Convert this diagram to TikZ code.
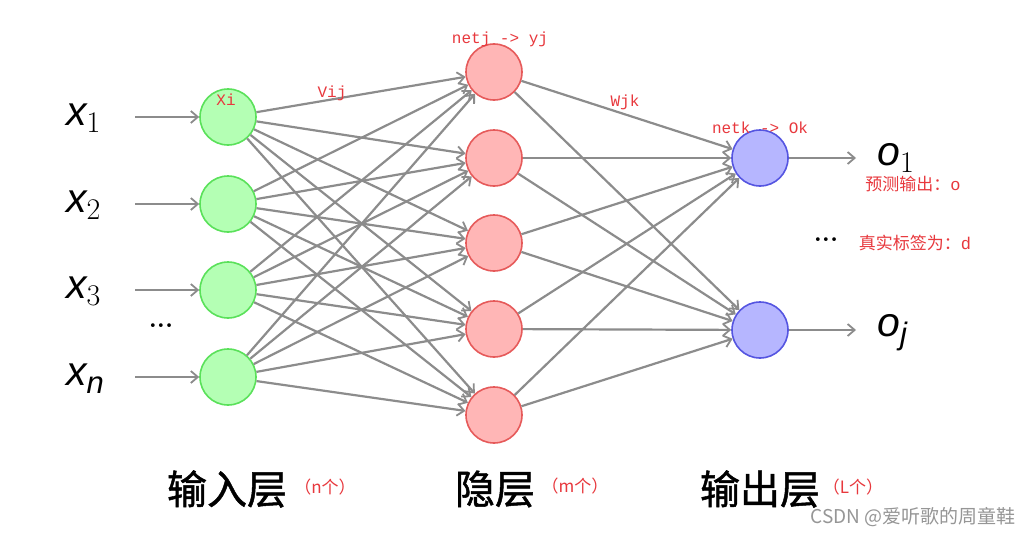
\documentclass[tikz,border=0pt]{standalone}
\usepackage{fontspec}
\usetikzlibrary{arrows.meta}
\newfontfamily\cjk{Noto Sans CJK SC}
\newfontfamily\cjkt{Noto Sans CJK SC}[FakeBold=1.2]
\newfontfamily\monof{Liberation Mono}
\newfontfamily\sanit{Liberation Sans Italic}
\newfontfamily\lmr{Latin Modern Roman}
\definecolor{lblred}{HTML}{E8383D}
\definecolor{edgegray}{HTML}{8C8C8C}
\newcommand{\vletter}[1]{{\sanit\fontsize{41}{44}\selectfont #1}}
\newcommand{\vsubd}[1]{\raisebox{-7pt}{\lmr\fontsize{30}{32}\selectfont #1}}
\newcommand{\vsubl}[1]{\raisebox{-8pt}{\sanit\fontsize{31}{33}\selectfont #1}}
\begin{document}
\begin{tikzpicture}[x=1pt,y=-1pt,
  neuron/.style={circle, minimum size=56pt, inner sep=0pt, line width=1.6pt},
  inn/.style={neuron, fill={rgb,255:red,180;green,255;blue,180}, draw={rgb,255:red,90;green,225;blue,90}},
  hid/.style={neuron, fill={rgb,255:red,255;green,182;blue,182}, draw={rgb,255:red,230;green,90;blue,90}},
  outn/.style={neuron, fill={rgb,255:red,182;green,182;blue,255}, draw={rgb,255:red,85;green,85;blue,225}},
  conn/.style={draw=edgegray, line width=2.2pt, -{Straight Barb[length=7pt,width=12pt,line width=1.8pt]}},
  redlbl/.style={text=lblred, font=\monof\fontsize{16}{18}\selectfont, inner sep=0pt},
  redcjk/.style={text=lblred, font=\cjk\fontsize{17}{19}\selectfont, inner sep=0pt},
  vlbl/.style={inner sep=0pt, anchor=base west},
  layer/.style={font=\cjkt\fontsize{40}{44}\selectfont, inner sep=0pt},
  cnt/.style={text=lblred, font=\cjk\fontsize{17}{19}\selectfont, inner sep=0pt},
  dots/.style={font=\bfseries\fontsize{26}{28}\selectfont, inner sep=0pt}
]
\useasboundingbox (0,0) rectangle (1032,535);
\fill[white] (0,0) rectangle (1032,535);

% input layer
\node[inn] (i1) at (228,117) {};
\node[inn] (i2) at (228,204) {};
\node[inn] (i3) at (228,290) {};
\node[inn] (i4) at (228,377) {};
% hidden
\node[hid] (h1) at (494,72) {};
\node[hid] (h2) at (494,158) {};
\node[hid] (h3) at (494,243) {};
\node[hid] (h4) at (494,329) {};
\node[hid] (h5) at (494,415) {};
% output
\node[outn] (o1) at (760,158) {};
\node[outn] (o2) at (760,330) {};

% input labels and arrows
\node[vlbl] (lx1) at (66,125) {\vletter{x}\vsubd{1}};
\node[vlbl] (lx2) at (66,212) {\vletter{x}\vsubd{2}};
\node[vlbl] (lx3) at (66,298) {\vletter{x}\vsubd{3}};
\node[vlbl] (lx4) at (66,385) {\vletter{x}\vsubl{n}};
\coordinate (s1) at (135,117);
\coordinate (s2) at (135,204);
\coordinate (s3) at (135,290);
\coordinate (s4) at (135,377);
\foreach \k in {1,2,3,4}{\draw[conn] (s\k) -- (i\k);}
\node[dots] (d1) at (161,326) {...};

% input -> hidden
\foreach \a in {1,2,3,4}{\foreach \b in {1,2,3,4,5}{\draw[conn] (i\a) -- (h\b);}}
% hidden -> output
\foreach \a in {1,2,3,4,5}{\foreach \b in {1,2}{\draw[conn] (h\a) -- (o\b);}}

% outputs
\node[vlbl] (lo1) at (877,165) {\vletter{o}\vsubd{1}};
\node[vlbl] (lo2) at (877,336) {\vletter{o}\vsubl{j}};
\coordinate (e1) at (856,158);
\coordinate (e2) at (856,330);
\draw[conn] (o1) -- (e1);
\draw[conn] (o2) -- (e2);
\node[dots] (d2) at (826,240) {...};

% red annotations
\node[redlbl] (t1) at (500,39) {netj -> yj};
\node[redlbl] (t2) at (226,100) {Xi};
\node[redlbl] (t3) at (332,93) {Vij};
\node[redlbl] (t4) at (625,102) {Wjk};
\node[redlbl] (t5) at (760,128) {netk -> Ok};
\node[redcjk] (t6) at (913,184) {预测输出：\monof o};
\node[redcjk] (t7) at (915,243) {真实标签为：\monof d};

% layer titles
\node[layer] (L1) at (227,489) {输入层};
\node[layer] (L2) at (495,489) {隐层};
\node[layer] (L3) at (760,489) {输出层};
\node[cnt] (c1) at (325,487) {（n个）};
\node[cnt] (c2) at (575,486) {（m个）};
\node[cnt] (c3) at (853,487) {（L个）};

% watermark
\node[text={rgb,255:red,150;green,150;blue,150}, font=\cjk\fontsize{19}{21}\selectfont, inner sep=0pt, anchor=east] (wm) at (1016,517) {CSDN @爱听歌的周童鞋};
\end{tikzpicture}
\end{document}
